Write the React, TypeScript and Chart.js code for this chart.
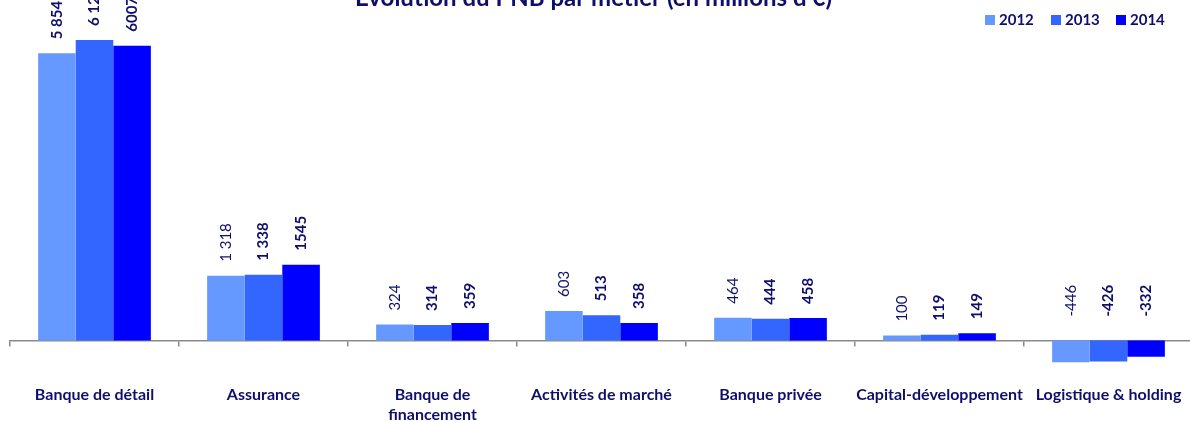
import React, { useEffect, useRef } from "react";
import { Chart, registerables } from "chart.js";

Chart.register(...registerables);

const categories: (string | string[])[] = [
  "Banque de détail",
  "Assurance",
  ["Banque de", "financement"],
  "Activités de marché",
  "Banque privée",
  "Capital-développement",
  "Logistique & holding",
];
const years = ["2012", "2013", "2014"];
const values2012 = [5854, 1318, 324, 603, 464, 100, -446];
const values2013 = [6125, 1338, 314, 513, 444, 119, -426];
const values2014 = [6007, 1545, 359, 358, 458, 149, -332];
const labels2012 = ["5 854", "1 318", "324", "603", "464", "100", "-446"];
const labels2013 = ["6 125", "1 338", "314", "513", "444", "119", "-426"];
const labels2014 = ["6007", "1545", "359", "358", "458", "149", "-332"];
const bold2012 = [true, false, false, false, false, false, false];
const colors = ["#6699FF", "#3366FF", "#0000FF"];
const titleText = "Evolution du PNB par métier (en millions d'€)";

const NAVY = "#0f0f6b";
const FONT = "Lato, 'Open Sans', sans-serif";

const valueLabels = [labels2012, labels2013, labels2014];

const labelPlugin = {
  id: "valueLabels",
  afterDatasetsDraw(chart: any) {
    const ctx = chart.ctx;
    const zero = chart.scales.y.getPixelForValue(0);
    chart.data.datasets.forEach((ds: any, di: number) => {
      const meta = chart.getDatasetMeta(di);
      meta.data.forEach((bar: any, i: number) => {
        const v = ds.data[i];
        const start = v >= 0 ? bar.y - 14 : zero - 24;
        const isBold = di === 0 ? bold2012[i] : true;
        ctx.save();
        ctx.translate(bar.x, start);
        ctx.rotate(-Math.PI / 2);
        ctx.font = `${isBold ? "bold " : ""}15px ${FONT}`;
        ctx.fillStyle = NAVY;
        ctx.textAlign = "left";
        ctx.textBaseline = "middle";
        ctx.fillText(valueLabels[di][i], 0, 0);
        ctx.restore();
      });
    });
  },
};

const titleLegendPlugin = {
  id: "titleLegend",
  afterDraw(chart: any) {
    const ctx = chart.ctx;
    ctx.save();
    ctx.fillStyle = NAVY;
    ctx.font = `bold 24px ${FONT}`;
    ctx.textAlign = "center";
    ctx.textBaseline = "alphabetic";
    ctx.fillText(titleText, 593.5, 6);
    // legend
    const startX = [985, 1051, 1116];
    ctx.font = `bold 15px ${FONT}`;
    ctx.textAlign = "left";
    ctx.textBaseline = "middle";
    years.forEach((y, i) => {
      ctx.fillStyle = colors[i];
      ctx.fillRect(startX[i], 15, 10, 10);
      ctx.fillStyle = NAVY;
      ctx.fillText(y, startX[i] + 14, 20.5);
    });
    ctx.restore();
  },
};

export default function App() {
  const ref = useRef<HTMLCanvasElement | null>(null);
  useEffect(() => {
    if (!ref.current) return;
    const chart = new Chart(ref.current, {
      type: "bar",
      data: {
        labels: categories,
        datasets: [
          { label: years[0], data: values2012, backgroundColor: colors[0] },
          { label: years[1], data: values2013, backgroundColor: colors[1] },
          { label: years[2], data: values2014, backgroundColor: colors[2] },
        ],
      },
      options: {
        animation: false,
        responsive: false,
        maintainAspectRatio: false,
        layout: { padding: { left: 10, right: 7, top: 0, bottom: 0 } },
        datasets: { bar: { categoryPercentage: 0.667, barPercentage: 1.0 } },
        plugins: {
          legend: { display: false },
          title: { display: false },
          tooltip: { enabled: false },
        },
        scales: {
          x: {
            position: { y: 0 } as any,
            offset: true,
            afterFit(scale: any) {
              scale.paddingLeft = 0;
              scale.paddingRight = 0;
            },
            grid: {
              offset: true,
              drawOnChartArea: false,
              drawTicks: true,
              tickLength: 5,
              color: "#8a8a8a",
              lineWidth: 1.5,
            },
            border: { display: true, color: "#8a8a8a", width: 1.5 },
            ticks: {
              autoSkip: false,
              maxRotation: 0,
              minRotation: 0,
              padding: 39,
              color: NAVY,
              font: { family: FONT, size: 16, weight: "bold", lineHeight: "20px" } as any,
            },
          },
          y: {
            display: false,
            min: -1641,
            max: 6940,
          },
        },
      },
      plugins: [labelPlugin, titleLegendPlugin],
    });
    return () => chart.destroy();
  }, []);
  return (
    <div
      style={{
        position: "fixed",
        left: 0,
        top: 0,
        width: 1190,
        height: 421,
        overflow: "hidden",
        background: "#fff",
      }}
    >
      <canvas ref={ref} width={1200} height={421} style={{ display: "block" }} />
    </div>
  );
}
